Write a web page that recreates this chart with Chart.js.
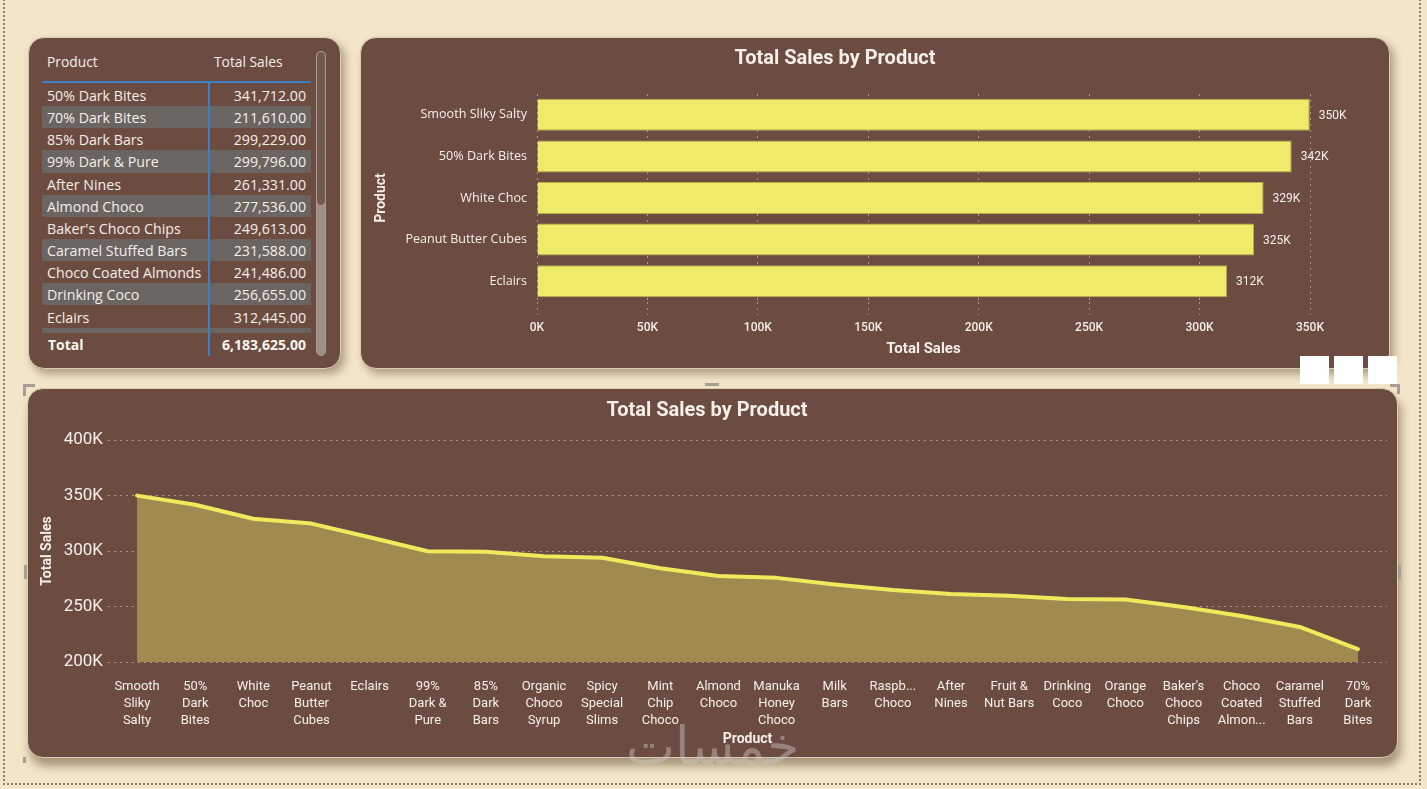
<!DOCTYPE html>
<html>
<head>
<meta charset="utf-8">
<script src="https://cdn.jsdelivr.net/npm/chart.js@4.4.1/dist/chart.umd.min.js"></script>
<style>
  html,body{margin:0;padding:0;}
  body{width:1427px;height:789px;background:#F3E5C8;position:relative;overflow:hidden;font-family:"Open Sans","Noto Sans",sans-serif;}
  .frame{position:absolute;left:3px;top:-5px;width:1418px;height:790px;border:2px dotted #8d7f70;box-sizing:border-box;}
  .panel{position:absolute;background:#6C4C41;border-radius:16px;border:1px solid #d9cdb8;box-shadow:4px 5px 8px rgba(90,70,40,0.45);box-sizing:border-box;}
  .hdr{position:absolute;top:14px;font-size:13.8px;color:#F4EFE8;}
  .row{position:absolute;left:13px;width:269px;height:22.15px;line-height:23px;color:#F4EFE8;font-size:14.2px;}
  .row.alt{background:#6B6562;}
  .row .p{position:absolute;left:5px;white-space:nowrap;}
  .row .v{position:absolute;right:5px;}
  .sq{position:absolute;background:#fff;width:29px;height:28px;top:356px;}
  .hd{position:absolute;background:#a79d94;}
</style>
</head>
<body>
<div class="frame"></div>

<div class="panel" id="tablePanel" style="left:28px;top:37px;width:313px;height:332px;">
  <div class="hdr" id="h1" style="left:18px;"></div>
  <div class="hdr" id="h2" style="left:185px;"></div>
  <div style="position:absolute;left:13px;top:43px;width:269px;height:2px;background:#3C80C8;"></div>
  <div id="body" style="position:absolute;left:0;top:46px;width:300px;height:249px;overflow:hidden;"></div>
  <div style="position:absolute;left:179px;top:44px;width:2px;height:274px;background:#3C80C8;"></div>
  <div id="totRow" style="position:absolute;left:13px;top:296px;width:269px;height:22px;line-height:22px;font-weight:bold;color:#F8F4EE;font-size:14px;"></div>
  <div style="position:absolute;left:287px;top:13px;width:10px;height:305px;border-radius:5px;background:#9E8F86;box-sizing:border-box;border:1px solid #a89a90;"></div>
  <div style="position:absolute;left:287px;top:13px;width:10px;height:155px;border-radius:5px;background:#715A50;box-sizing:border-box;border:1px solid #a89a90;"></div>
</div>

<div class="panel" style="left:360px;top:37px;width:1030px;height:332px;">
  <canvas id="barChart" style="position:absolute;left:-1px;top:-1px;"></canvas>
</div>

<div class="sq" style="left:1300px;"></div>
<div class="sq" style="left:1334px;"></div>
<div class="sq" style="left:1368px;"></div>

<div class="panel" style="left:27px;top:388px;width:1371px;height:370px;box-shadow:3px 8px 10px rgba(90,70,40,0.5);">
  <canvas id="lineChart" style="position:absolute;left:-1px;top:-1px;"></canvas>
</div>
<!-- selection handles -->
<div class="hd" style="left:23px;top:384px;width:12px;height:3px;"></div>
<div class="hd" style="left:23px;top:384px;width:3px;height:12px;"></div>
<div class="hd" style="left:705px;top:383px;width:14px;height:3px;"></div>
<div class="hd" style="left:1398px;top:565px;width:3px;height:14px;"></div>
<div class="hd" style="left:24px;top:565px;width:3px;height:14px;"></div>
<div class="hd" style="left:23px;top:757px;width:3px;height:6px;"></div>
<div class="hd" style="left:1390px;top:384px;width:10px;height:3px;"></div>
<div class="hd" style="left:1397px;top:384px;width:3px;height:10px;"></div>

<div style="position:absolute;left:626px;top:716px;font-family:'DejaVu Sans',sans-serif;font-size:52px;color:rgba(205,200,195,0.45);pointer-events:none;">خمسات</div>

<script>
// ---------- DATA ----------
const tableHeaders = ["Product", "Total Sales"];
const tableProducts = ["50% Dark Bites","70% Dark Bites","85% Dark Bars","99% Dark & Pure","After Nines","Almond Choco","Baker's Choco Chips","Caramel Stuffed Bars","Choco Coated Almonds","Drinking Coco","Eclairs","Fruit & Nut Bars"];
const tableSales = [341712,211610,299229,299796,261331,277536,249613,231588,241486,256655,312445,260000];
const tableTotalLabel = "Total";
const tableTotal = 6183625;

const topProducts = ["Smooth Sliky Salty","50% Dark Bites","White Choc","Peanut Butter Cubes","Eclairs"];
const topSales = [349900, 341712, 329000, 324700, 312445];
const barTicks = [0,50000,100000,150000,200000,250000,300000,350000];

const lineProducts = [
  ["Smooth","Sliky","Salty"],["50%","Dark","Bites"],["White","Choc"],["Peanut","Butter","Cubes"],["Eclairs"],
  ["99%","Dark &","Pure"],["85%","Dark","Bars"],["Organic","Choco","Syrup"],["Spicy","Special","Slims"],["Mint","Chip","Choco"],
  ["Almond","Choco"],["Manuka","Honey","Choco"],["Milk","Bars"],["Raspb...","Choco"],["After","Nines"],
  ["Fruit &","Nut Bars"],["Drinking","Coco"],["Orange","Choco"],["Baker's","Choco","Chips"],["Choco","Coated","Almon..."],
  ["Caramel","Stuffed","Bars"],["70%","Dark","Bites"]
];
const lineSales = [349900,341712,329000,324700,312445,299796,299229,295300,294000,284500,277536,275800,269800,264900,261331,259600,256655,256400,249613,241486,231588,211610];
const lineTicks = [200000,250000,300000,350000,400000];

const chartTitle = "Total Sales by Product";
const xTitleBar = "Total Sales";
const yTitleBar = "Product";
const xTitleLine = "Product";
const yTitleLine = "Total Sales";

// ---------- TABLE ----------
const fmt2 = v => v.toLocaleString('en-US',{minimumFractionDigits:2,maximumFractionDigits:2});
document.getElementById('h1').textContent = tableHeaders[0];
document.getElementById('h2').textContent = tableHeaders[1];
const body = document.getElementById('body');
tableProducts.forEach((p,i)=>{
  const r = document.createElement('div');
  r.className = 'row' + (i%2===1 ? ' alt' : '');
  r.style.top = (i*22.15) + 'px';
  const a = document.createElement('span'); a.className='p'; a.textContent = p;
  const b = document.createElement('span'); b.className='v'; b.textContent = fmt2(tableSales[i]);
  r.appendChild(a); r.appendChild(b); body.appendChild(r);
});
const tot = document.getElementById('totRow');
const t1 = document.createElement('span'); t1.style.position='absolute'; t1.style.left='6px'; t1.textContent = tableTotalLabel;
const t2 = document.createElement('span'); t2.style.position='absolute'; t2.style.right='5px'; t2.textContent = fmt2(tableTotal);
tot.appendChild(t1); tot.appendChild(t2);

// ---------- CHARTS ----------
const kfmt = v => Math.round(v/1000) + 'K';
const white = '#F4EFE8';
const gridCol = 'rgba(235,225,215,0.5)';
const fontMain = "Roboto, 'DejaVu Sans', sans-serif";

function sizeCanvas(id,w,h){const c=document.getElementById(id);c.width=w;c.height=h;c.style.width=w+'px';c.style.height=h+'px';return c;}

const barLabels = {
  id:'barLabels',
  afterDatasetsDraw(chart){
    const {ctx} = chart;
    const meta = chart.getDatasetMeta(0);
    ctx.save();
    ctx.fillStyle = white;
    ctx.font = "12px " + fontMain;
    ctx.textBaseline = 'middle';
    ctx.textAlign = 'left';
    meta.data.forEach((el,i)=>{
      ctx.fillText(kfmt(chart.data.datasets[0].data[i]), el.x + 9, el.y + 1);
    });
    ctx.restore();
  }
};

sizeCanvas('barChart',1030,332);
new Chart(document.getElementById('barChart'),{
  type:'bar',
  data:{labels:topProducts,datasets:[{data:topSales,backgroundColor:'#EEEB6B',borderColor:'#B9A94E',borderWidth:1,barPercentage:0.77,categoryPercentage:1}]},
  options:{
    indexAxis:'y',responsive:false,animation:false,
    layout:{padding:{left:0,right:80,top:0,bottom:0}},
    plugins:{legend:{display:false},tooltip:{enabled:false},
      title:{display:true,text:chartTitle,color:white,font:{family:fontMain,size:20,weight:'bold'},padding:{top:10,bottom:23}}},
    scales:{
      x:{min:0,max:350000,afterBuildTicks(s){s.ticks=barTicks.map(v=>({value:v}));},
        afterFit(s){s.height=67;},
        border:{display:false,dash:[2,4]},
        grid:{color:gridCol,drawTicks:true,tickLength:13,tickColor:gridCol,tickBorderDash:[2,4]},
        ticks:{color:white,font:{family:fontMain,size:12,weight:'500'},padding:6,callback:v=>kfmt(v),maxRotation:0},
        title:{display:true,text:xTitleBar,color:white,font:{family:fontMain,size:15,weight:'bold'},padding:{bottom:11}}},
      y:{afterFit(s){s.width=177;},
        border:{display:false},grid:{display:false},
        ticks:{color:white,font:{family:"'Open Sans','Noto Sans',sans-serif",size:12.6},padding:2},
        title:{display:true,text:yTitleBar,color:white,font:{family:fontMain,size:14,weight:'bold'},padding:{top:13}}}
    }
  },
  plugins:[barLabels]
});

sizeCanvas('lineChart',1371,370);
new Chart(document.getElementById('lineChart'),{
  type:'line',
  data:{labels:lineProducts,datasets:[{data:lineSales,borderColor:'#EEEA5C',backgroundColor:'#A08A50',borderWidth:4,pointRadius:0,tension:0,fill:'start',borderJoinStyle:'round',borderCapStyle:'round'}]},
  options:{
    responsive:false,animation:false,
    layout:{padding:{left:0,right:11,top:0,bottom:0}},
    plugins:{legend:{display:false},tooltip:{enabled:false},
      title:{display:true,text:chartTitle,color:white,font:{family:fontMain,size:20,weight:'bold'},padding:{top:11,bottom:17}}},
    scales:{
      x:{offset:true,afterFit(s){s.height=96;},
        border:{display:false},grid:{display:false},
        ticks:{color:white,font:{family:fontMain,size:13,lineHeight:1.3},padding:8,maxRotation:0,autoSkip:false},
        title:{display:true,text:xTitleLine,color:white,font:{family:fontMain,size:14,weight:'bold'},padding:{bottom:10}}},
      y:{min:200000,max:400000,afterBuildTicks(s){s.ticks=lineTicks.map(v=>({value:v}));},
        afterFit(s){s.width=81;},
        border:{display:false,dash:[2,4]},
        grid:{color:gridCol,drawTicks:false},
        ticks:{color:white,font:{family:fontMain,size:17},padding:5,callback:v=>kfmt(v)},
        title:{display:true,text:yTitleLine,color:white,font:{family:fontMain,size:14,weight:'bold'},padding:{top:12}}}
    }
  }
});
</script>
</body>
</html>
